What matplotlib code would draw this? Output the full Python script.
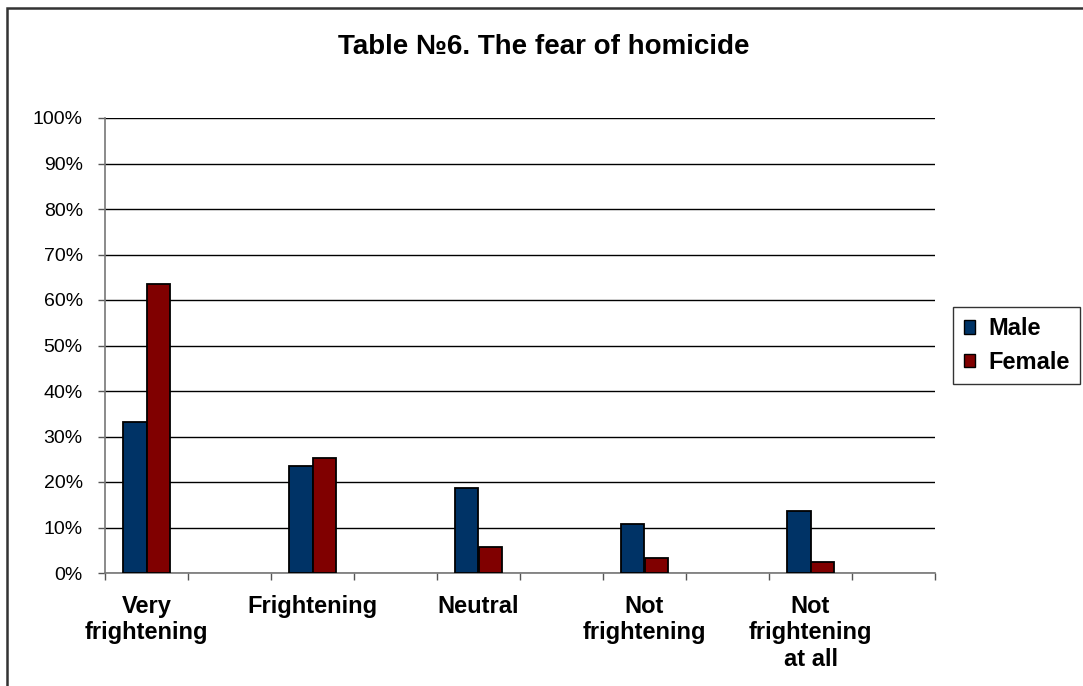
import matplotlib
matplotlib.use("Agg")
import matplotlib.pyplot as plt
import numpy as np
from matplotlib.patches import Rectangle
from matplotlib.ticker import FixedLocator, PercentFormatter

plt.rcParams['font.family'] = ['Liberation Sans', 'DejaVu Sans']

categories = ["Very\nfrightening", "Frightening", "Neutral", "Not\nfrightening", "Not\nfrightening\nat all"]
male = [33.2, 23.5, 18.6, 10.7, 13.6]
female = [63.6, 25.3, 5.7, 3.2, 2.5]
y_ticks = [0, 10, 20, 30, 40, 50, 60, 70, 80, 90, 100]
title = "Table №6. The fear of homicide"

W, H = 1083, 686
fig = plt.figure(figsize=(W / 100, H / 100), dpi=100)
ax = fig.add_axes([105 / W, 1 - 573 / H, (935 - 105) / W, (573 - 118) / H])

n_slots = 2 * len(categories)
centers = np.arange(len(categories)) * 2 + 0.5
w = 1 / 3.5
ax.bar(centers - w / 2, male, w, color="#003366", edgecolor="black", linewidth=1.3, label="Male", zorder=3)
ax.bar(centers + w / 2, female, w, color="#800000", edgecolor="black", linewidth=1.3, label="Female", zorder=3)

ax.set_xlim(0, n_slots)
ax.set_ylim(0, 100)
ax.yaxis.set_major_locator(FixedLocator(y_ticks))
ax.yaxis.set_major_formatter(PercentFormatter(decimals=0))
ax.grid(axis="y", color="black", linewidth=1.0, zorder=0)
ax.set_axisbelow(True)

ax.xaxis.set_major_locator(FixedLocator(np.arange(n_slots + 1)))
ax.xaxis.set_major_formatter(plt.NullFormatter())
ax.xaxis.set_minor_locator(FixedLocator(centers))
ax.set_xticklabels(categories, minor=True, fontsize=17, fontweight="bold", va="top", ha="center",
                   linespacing=1.18)
ax.tick_params(axis="x", which="major", direction="out", length=5, width=1, color="#555555")
ax.tick_params(axis="x", which="minor", length=0, pad=16)
ax.tick_params(axis="y", direction="out", length=5, width=1, color="#555555", labelsize=14, pad=11)

for s in ["top", "right"]:
    ax.spines[s].set_visible(False)
ax.spines["left"].set_color("#777777")
ax.spines["bottom"].set_color("#777777")
ax.spines["left"].set_linewidth(1.2)
ax.spines["bottom"].set_linewidth(1.2)

fig.text(544 / W, 1 - 47 / H, title, ha="center", va="center", fontsize=20, fontweight="bold")

leg = fig.legend(loc="center left", bbox_to_anchor=(953 / W, 1 - 345.5 / H),
                 prop={"size": 17, "weight": "bold"}, frameon=True, fancybox=False,
                 handlelength=0.5, handleheight=0.5, handletextpad=0.55,
                 labelspacing=0.45, borderpad=0.45, borderaxespad=0)
leg.get_frame().set_edgecolor("black")
leg.get_frame().set_linewidth(1.0)
for h in leg.legend_handles:
    h.set_linewidth(1.0)

fig.patches.append(Rectangle((7 / W, -0.1), 1.2, 1 - 8 / H + 0.1, transform=fig.transFigure,
                             fill=False, edgecolor="#333333", linewidth=1.8))

fig.savefig("out.png", dpi=100)
